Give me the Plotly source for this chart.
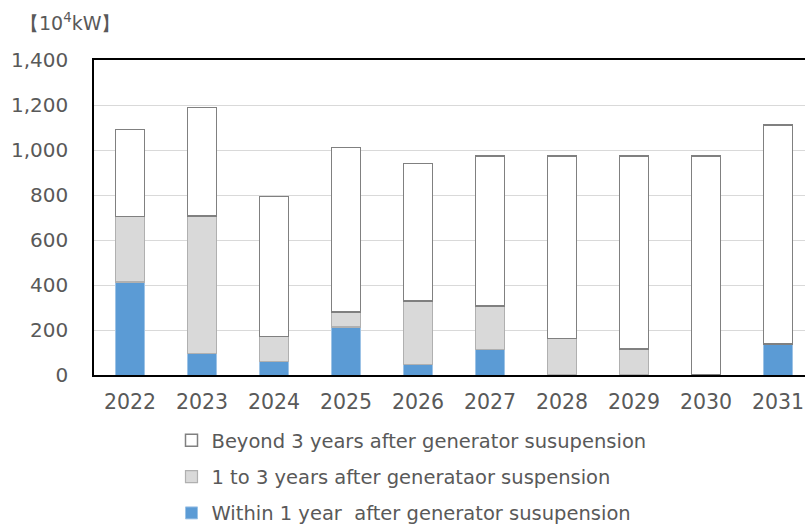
import plotly.graph_objects as go

years = ["2022", "2023", "2024", "2025", "2026", "2027", "2028", "2029", "2030", "2031"]
within_1yr = [413, 96, 61, 213, 45, 114, 0, 0, 0, 137]
one_to_3yr = [291, 611, 110, 68, 284, 193, 163, 115, 0, 0]
beyond_3yr = [388, 483, 622, 731, 612, 666, 810, 858, 973, 975]

name_within = "Within 1 year  after generator susupension"
name_1to3 = "1 to 3 years after generataor suspension"
name_beyond = "Beyond 3 years after generator susupension"

FONT = "DejaVu Sans"
TXT = "#595959"


def nz(vals):
    return [v if v else None for v in vals]


fig = go.Figure()
fig.add_trace(go.Bar(x=years, y=nz(within_1yr), name=name_within, legendgroup="c", legendrank=3,
                     marker=dict(color="#5b9bd5", line=dict(color="#9dc3e6", width=1))))
fig.add_trace(go.Bar(x=years, y=nz(one_to_3yr), name=name_1to3, legendgroup="b", legendrank=2,
                     marker=dict(color="#d9d9d9", line=dict(color="#b0b0b0", width=1.2))))
fig.add_trace(go.Bar(x=years, y=nz(beyond_3yr), name=name_beyond, legendgroup="a", legendrank=1,
                     marker=dict(color="#ffffff", line=dict(color="#808080", width=1.5))))

fig.update_layout(
    width=805, height=525,
    margin=dict(l=94, r=0, t=60, b=150),
    paper_bgcolor="white", plot_bgcolor="white",
    barmode="stack", bargap=0.6,
    font=dict(family=FONT, size=20, color=TXT),
    showlegend=True,
    legend=dict(orientation="v", traceorder="grouped", tracegroupgap=8,
                x=0.109, xanchor="left", xref="paper",
                y=1 - 421 / 525, yanchor="top", yref="container",
                font=dict(family=FONT, size=19.5, color=TXT),
                bgcolor="rgba(0,0,0,0)"),
    xaxis=dict(type="category", range=[-0.5, 9.375], showline=True, linecolor="black",
               linewidth=1.5, mirror=True, showgrid=False, ticks="", automargin=False,
               ticklabelstandoff=8, tickfont=dict(family=FONT, size=20.5, color=TXT)),
    yaxis=dict(range=[0, 1400], dtick=200, tickformat=",d", showline=True, linecolor="black",
               linewidth=1.5, showgrid=True, gridcolor="#d9d9d9", gridwidth=1,
               zeroline=False, ticks="", automargin=False, ticklabelstandoff=20,
               tickfont=dict(family=FONT, size=20, color=TXT)),
    annotations=[dict(text="【10<sup>4</sup>kW】", xref="paper", yref="paper",
                      x=-0.107, y=1.122, xanchor="left", yanchor="middle", showarrow=False,
                      font=dict(family=FONT, size=19, color=TXT))],
)

fig.write_html("out.html")
